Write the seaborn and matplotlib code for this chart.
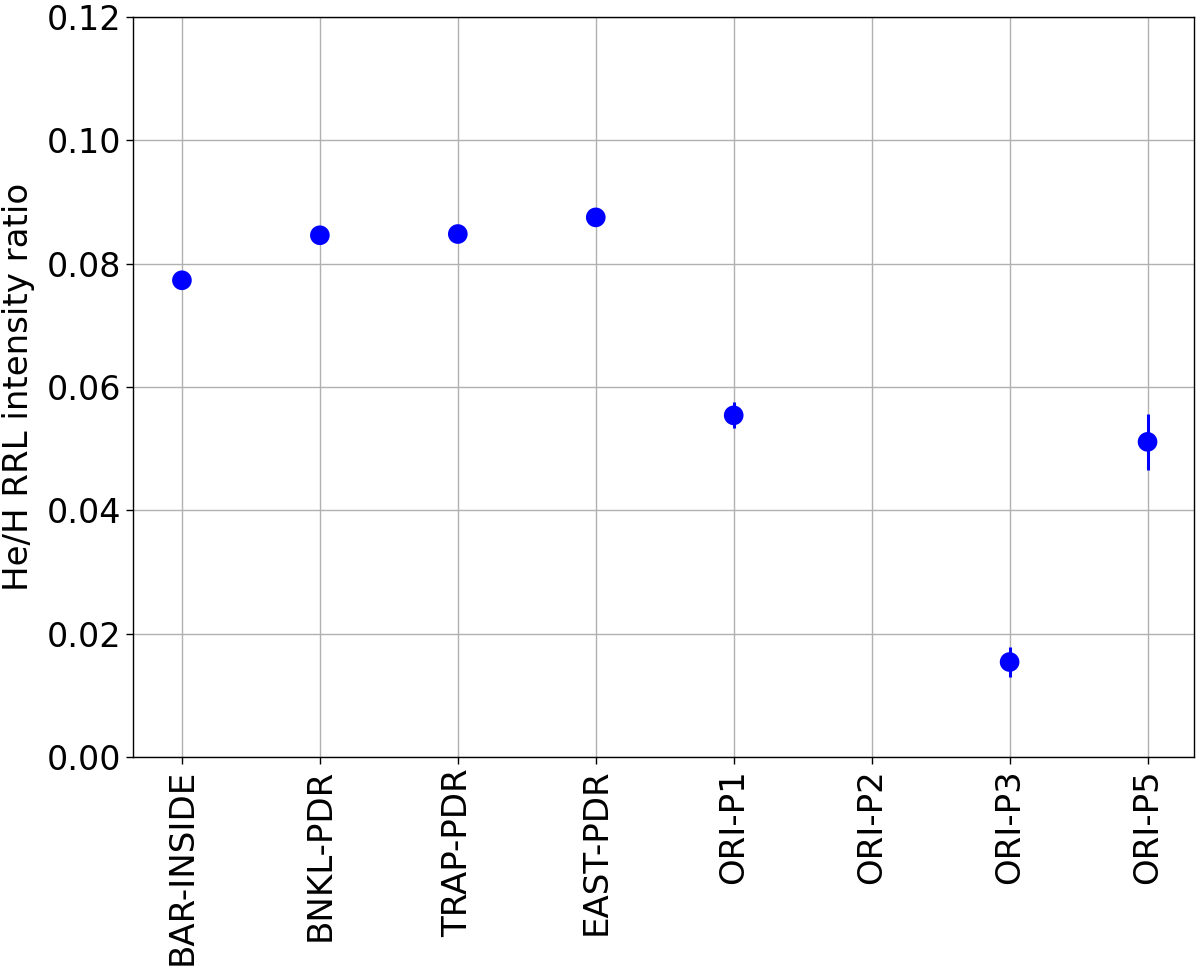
import matplotlib
matplotlib.use("Agg")
import matplotlib.pyplot as plt
import numpy as np
import pandas as pd
import seaborn as sns

REGIONS = ["BAR-INSIDE", "BNKL-PDR", "TRAP-PDR", "EAST-PDR",
           "ORI-P1", "ORI-P2", "ORI-P3", "ORI-P5"]
RATIO = [0.0773, 0.0846, 0.0848, 0.0875, 0.0554, np.nan, 0.0154, 0.0511]
RATIO_ERR = [0.0005, 0.0006, 0.0006, 0.0005, 0.0021, np.nan, 0.0025, 0.0045]
Y_TICKS = [0.00, 0.02, 0.04, 0.06, 0.08, 0.10, 0.12]


def main() -> None:
    sns.set_style("ticks")
    plt.rcParams["font.family"] = ["DejaVu Sans"]
    plt.rcParams["text.color"] = "black"
    plt.rcParams["axes.labelcolor"] = "black"
    plt.rcParams["xtick.color"] = "black"
    plt.rcParams["ytick.color"] = "black"

    df = pd.DataFrame({"region": REGIONS, "ratio": RATIO, "err": RATIO_ERR})
    df["pos"] = np.arange(len(df))

    fig = plt.figure(figsize=(12, 9.74), dpi=100)
    ax = fig.add_axes([0.1108, 0.2228, 0.884, 0.7598])

    ax.grid(True, color="#b0b0b0", linewidth=1.0)
    ax.set_axisbelow(True)

    valid = df.dropna()
    ax.errorbar(valid["pos"], valid["ratio"], yerr=valid["err"], fmt="none",
                ecolor="blue", elinewidth=2.2, zorder=3)
    sns.scatterplot(data=valid, x="pos", y="ratio", ax=ax, color="blue",
                    s=200, edgecolor="none", zorder=4, legend=False)

    ax.set_xticks(df["pos"])
    ax.set_xticklabels(df["region"], rotation=90, fontsize=24.5)
    ax.set_yticks(Y_TICKS)
    ax.set_yticklabels([f"{t:.2f}" for t in Y_TICKS], fontsize=24)
    ax.set_xlim(-0.355, 7.335)
    ax.set_ylim(0, 0.12)
    ax.set_xlabel("")
    ax.set_ylabel("He/H RRL intensity ratio", fontsize=24.5)
    ax.yaxis.set_label_coords(-0.0925, 0.5)
    ax.tick_params(length=5, width=1, color="black")
    for sp in ax.spines.values():
        sp.set_visible(True)
        sp.set_color("black")
        sp.set_linewidth(1.0)

    fig.savefig("out.png", dpi=100)
    plt.close(fig)


if __name__ == "__main__":
    main()
